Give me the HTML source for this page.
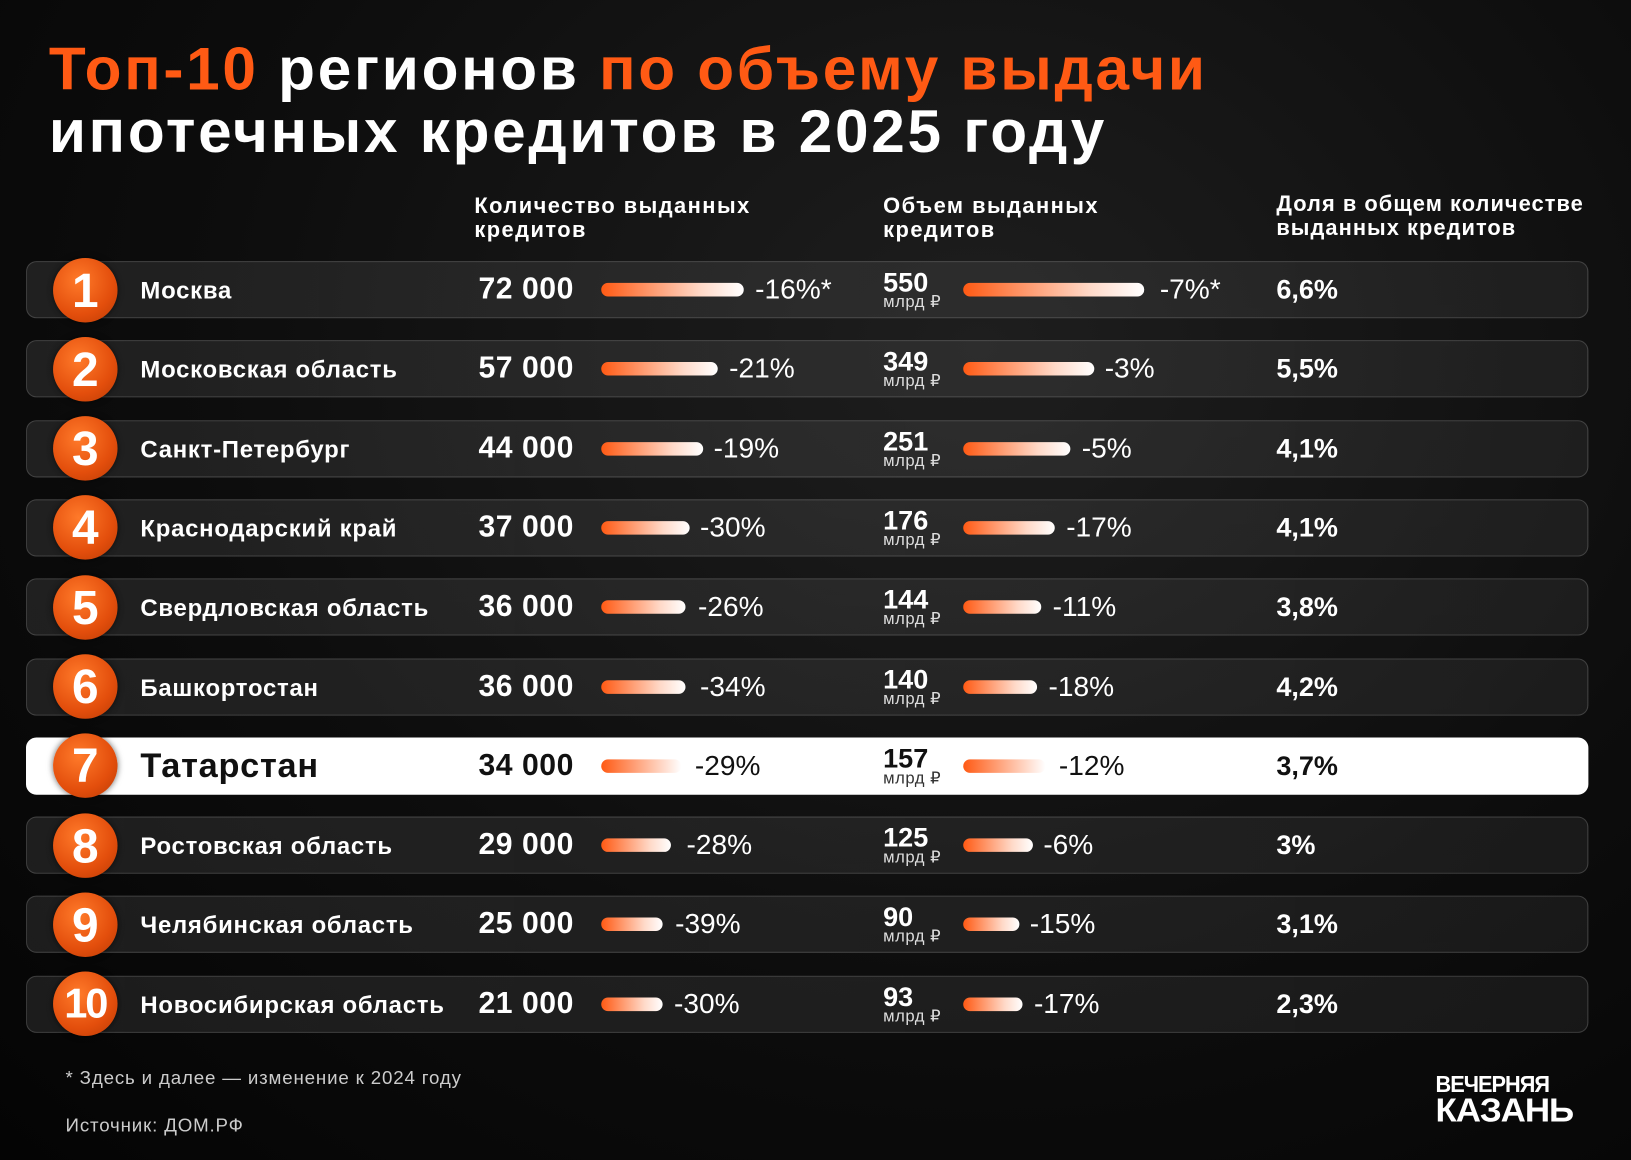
<!DOCTYPE html>
<html><head><meta charset="utf-8"><style>
html,body{margin:0;padding:0;background:#050505;}
#wrap{width:1631px;height:1160px;overflow:hidden;position:relative;background:radial-gradient(ellipse at 60% 30%,#1e1e1e 0%,#0d0d0d 55%,#040404 100%);}
#s{position:absolute;left:0;top:0;width:1568px;height:1115px;transform:scale(1.0402);transform-origin:0 0;font-family:"Liberation Sans",sans-serif;color:#fff;}
.t{position:absolute;left:47px;font-weight:bold;font-size:58px;white-space:nowrap;letter-spacing:2.6px}
.o{color:#ff5a14}
.h{position:absolute;top:187px;font-size:21px;font-weight:bold;line-height:23px;letter-spacing:1.4px}
.row{position:absolute;left:25px;width:1502px;height:55px;border-radius:10px;background:linear-gradient(90deg,rgba(255,255,255,0.09),rgba(255,255,255,0.06));border:1px solid rgba(255,255,255,0.16);box-sizing:border-box}
.row.w{background:#fff;border-color:#fff}
.c{position:absolute;left:51px;width:62px;height:62px;border-radius:50%;background:radial-gradient(circle at 40% 35%,#ff7a2a,#e34e0c 60%,#b83a05);font-weight:bold;font-size:46px;text-align:center;line-height:62px;color:#fff;box-shadow:0 0 6px rgba(0,0,0,.6)}
.n{position:absolute;left:135px;font-weight:bold;font-size:23px;letter-spacing:0.7px;white-space:nowrap}
.v{position:absolute;font-size:29px;font-weight:bold;letter-spacing:0.5px;white-space:nowrap}
.b{position:absolute;height:13px;border-radius:7px;background:linear-gradient(90deg,#ff5a14,#ffd9c8 70%,#fff)}
.p{position:absolute;font-size:27px;white-space:nowrap}
.m{position:absolute;left:849px;font-size:26px;font-weight:bold;line-height:26px}
.m small{display:block;font-size:16px;font-weight:normal;line-height:14px;color:#ddd;letter-spacing:0.5px}
.f{position:absolute;left:63px;font-size:18px;letter-spacing:0.8px;color:#ccc}
</style></head><body><div id="wrap"><div id="s">
<div class="t" style="top:33px"><span class="o">Топ-10</span> регионов <span class="o">по объему выдачи</span></div>
<div class="t" style="top:93px">ипотечных кредитов в 2025 году</div>
<div class="h" style="left:456px">Количество выданных<br>кредитов</div>
<div class="h" style="left:849px">Объем выданных<br>кредитов</div>
<div class="h" style="left:1227px;top:185px;letter-spacing:1px">Доля в общем количестве<br>выданных кредитов</div>
<div id="rows"></div>
<div class="f" style="top:1026px">* Здесь и далее — изменение к 2024 году</div>
<div class="f" style="top:1072px">Источник: ДОМ.РФ</div>
<div style="position:absolute;left:1380px;top:1030px;width:148px;font-weight:bold;color:#fff;font-family:'Liberation Sans',sans-serif;line-height:25px">
<div style="font-size:22px;letter-spacing:-1px;transform:scaleX(0.95);transform-origin:0 0">ВЕЧЕРНЯЯ</div>
<div style="font-size:32px;letter-spacing:-1px;transform:scaleX(1.05);transform-origin:0 0">КАЗАНЬ</div></div>
</div></div>
<script>
var d=[["1","Москва","72 000",715,726,"-16%*","550",1100,1115,"-7%*","6,6%"],
["2","Московская область","57 000",690,701,"-21%","349",1052,1062,"-3%","5,5%"],
["3","Санкт-Петербург","44 000",676,686,"-19%","251",1029,1040,"-5%","4,1%"],
["4","Краснодарский край","37 000",663,673,"-30%","176",1014,1025,"-17%","4,1%"],
["5","Свердловская область","36 000",659,671,"-26%","144",1001,1012,"-11%","3,8%"],
["6","Башкортостан","36 000",659,673,"-34%","140",997,1008,"-18%","4,2%"],
["7","Татарстан","34 000",655,668,"-29%","157",1005,1018,"-12%","3,7%"],
["8","Ростовская область","29 000",645,660,"-28%","125",993,1003,"-6%","3%"],
["9","Челябинская область","25 000",637,649,"-39%","90",980,990,"-15%","3,1%"],
["10","Новосибирская область","21 000",637,648,"-30%","93",983,994,"-17%","2,3%"]];
var h="";
d.forEach(function(r,i){var y=251+i*76.3;var w=i==6;var col=w?"#111":"#fff";
h+='<div class="row'+(w?' w':'')+'" style="top:'+y+'px"></div>';
h+='<div class="c" style="top:'+(y-3.5)+'px;'+(r[0]=="10"?'font-size:40px;letter-spacing:-2px':'')+'">'+r[0]+'</div>';
h+='<div class="n" style="top:'+(y+(w?8:15))+'px;color:'+col+';'+(w?'font-size:33px':'')+'">'+r[1]+'</div>';
h+='<div class="v" style="left:460px;top:'+(y+11)+'px;color:'+col+'">'+r[2]+'</div>';
h+='<div class="b" style="left:578px;width:'+(r[3]-578)+'px;top:'+(y+21)+'px;'+(w?'background:linear-gradient(90deg,#ff5a14,#fff)':'')+'"></div>';
h+='<div class="p" style="left:'+r[4]+'px;top:'+(y+12)+'px;color:'+col+'">'+r[5]+'</div>';
h+='<div class="m" style="top:'+(y+7)+'px;color:'+col+'">'+r[6]+'<small style="color:'+(w?'#333':'#ddd')+'">млрд ₽</small></div>';
h+='<div class="b" style="left:926px;width:'+(r[7]-926)+'px;top:'+(y+21)+'px;'+(w?'background:linear-gradient(90deg,#ff5a14,#fff)':'')+'"></div>';
h+='<div class="p" style="left:'+r[8]+'px;top:'+(y+12)+'px;color:'+col+'">'+r[9]+'</div>';
h+='<div class="p" style="left:1227px;top:'+(y+12)+'px;color:'+col+';font-weight:bold;font-size:26px">'+r[10]+'</div>';
});
document.getElementById("rows").innerHTML=h;
</script></body></html>
